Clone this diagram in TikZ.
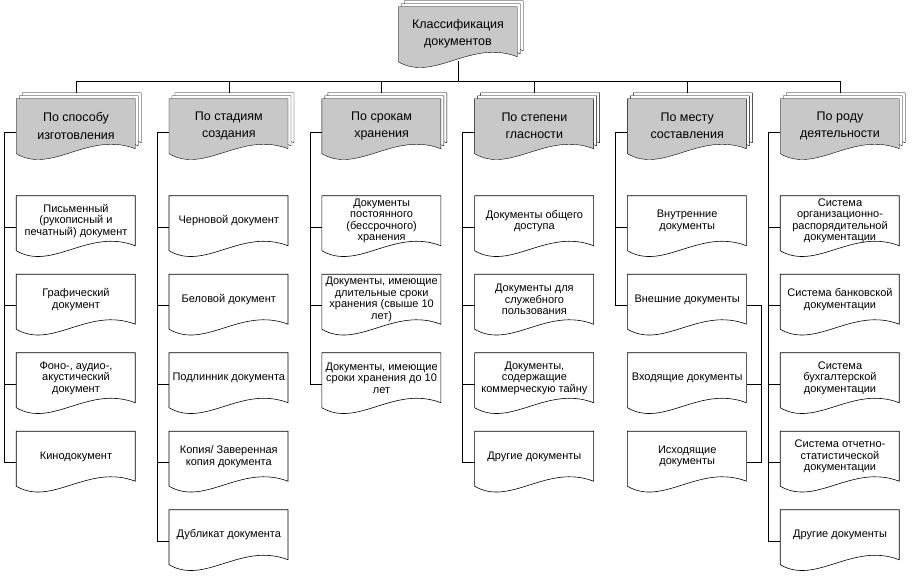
\documentclass[tikz,border=0pt]{standalone}
\usepackage{fontspec}
\setmainfont{Liberation Sans}
\usepackage{xcolor}
\usepackage{tikz}
\usetikzlibrary{backgrounds}

\definecolor{catgray}{RGB}{200,200,200}

% one page of a document symbol, hung from the north west corner of a node
\newcommand{\docpage}[3]{%
  \draw[#3, shift={(#1.north west)}, xshift=#2pt, yshift=#2pt]
    (0,0) -- (119,0) -- (119,50) .. controls (72,32) and (36,76) .. (0,55) -- cycle;}

% single document: name, x, top, text
\newcommand{\leafdoc}[4]{%
  \node[leaf] (#1) at (#2,#3+25) {#4};
  \docpage{#1}{0}{leafpage}}

% stacked documents: name, x, top, text
\newcommand{\stackdoc}[4]{%
  \node[heading] (#1) at (#2,#3+27) {#4};
  \begin{scope}[on background layer]
    \docpage{#1}{6}{backpage}
    \docpage{#1}{3}{backpage}
    \docpage{#1}{0}{frontpage}
  \end{scope}}

\begin{document}
\begin{tikzpicture}[x=1pt, y=-1pt, line width=0.6pt,
  leaf/.style={minimum width=119pt, minimum height=50pt, inner sep=0pt,
    align=center, font=\fontsize{11}{11.5}\selectfont},
  heading/.style={minimum width=119pt, minimum height=54pt, inner sep=0pt,
    align=center, font=\fontsize{12.5}{17.5}\selectfont},
  leafpage/.style={draw=black},
  backpage/.style={draw=black, fill=white},
  frontpage/.style={draw=black, fill=catgray},
  link/.style={draw=black}]

\useasboundingbox (0,0) rectangle (913,581);

% Root
\stackdoc{klass}{458}{7}{Классификация\\документов}

% Classification features
\stackdoc{sposob}{76}{99}{По способу\\изготовления}
\stackdoc{stadii}{228.8}{99}{По стадиям\\создания}
\stackdoc{sroki}{381.6}{99}{По срокам\\хранения}
\stackdoc{glasn}{534.4}{99}{По степени\\гласности}
\stackdoc{mesto}{687.2}{99}{По месту\\составления}
\stackdoc{rod}{840}{99}{По роду\\деятельности}

% Column 1
\leafdoc{sposob1}{76}{196}{Письменный\\(рукописный и\\печатный) документ}
\leafdoc{sposob2}{76}{274.5}{Графический\\документ}
\leafdoc{sposob3}{76}{353}{Фоно-, аудио-,\\акустический\\документ}
\leafdoc{sposob4}{76}{431.5}{Кинодокумент}

% Column 2
\leafdoc{stadii1}{228.8}{196}{Черновой документ}
\leafdoc{stadii2}{228.8}{274.5}{Беловой документ}
\leafdoc{stadii3}{228.8}{353}{Подлинник документа}
\leafdoc{stadii4}{228.8}{431.5}{Копия/ Заверенная\\копия документа}
\leafdoc{stadii5}{228.8}{510}{Дубликат документа}

% Column 3
\leafdoc{sroki1}{381.6}{196}{Документы\\постоянного\\(бессрочного)\\хранения}
\leafdoc{sroki2}{381.6}{274.5}{Документы, имеющие\\длительные сроки\\хранения (свыше 10\\лет)}
\leafdoc{sroki3}{381.6}{353}{Документы, имеющие\\сроки хранения до 10\\лет}

% Column 4
\leafdoc{glasn1}{534.4}{196}{Документы общего\\доступа}
\leafdoc{glasn2}{534.4}{274.5}{Документы для\\служебного\\пользования}
\leafdoc{glasn3}{534.4}{353}{Документы,\\содержащие\\коммерческую тайну}
\leafdoc{glasn4}{534.4}{431.5}{Другие документы}

% Column 5
\leafdoc{mesto1}{687.2}{196}{Внутренние\\документы}
\leafdoc{mesto2}{687.2}{274.5}{Внешние документы}
\leafdoc{mesto3}{687.2}{353}{Входящие документы}
\leafdoc{mesto4}{687.2}{431.5}{Исходящие\\документы}

% Column 6
\leafdoc{rod1}{840}{196}{Система\\организационно-\\распорядительной\\документации}
\leafdoc{rod2}{840}{274.5}{Система банковской\\документации}
\leafdoc{rod3}{840}{353}{Система\\бухгалтерской\\документации}
\leafdoc{rod4}{840}{431.5}{Система отчетно-\\статистической\\документации}
\leafdoc{rod5}{840}{510}{Другие документы}

% Root to features
\draw[link] (klass.south) -- ++(0,20) coordinate (bus);
\foreach \c in {sposob,stadii,sroki,glasn,mesto,rod}
  \draw[link] (bus) -| ([yshift=6pt]\c.north);

% Features to documents
\foreach \i in {1,...,4}
  \draw[link] ([yshift=-6pt]sposob.west) -- ++(-12,0) |- ([yshift=-6pt]sposob\i.west);
\foreach \i in {1,...,5}
  \draw[link] ([yshift=-6pt]stadii.west) -- ++(-12,0) |- ([yshift=-6pt]stadii\i.west);
\foreach \i in {1,...,3}
  \draw[link] ([yshift=-6pt]sroki.west) -- ++(-12,0) |- ([yshift=-6pt]sroki\i.west);
\foreach \i in {1,...,4}
  \draw[link] ([yshift=-6pt]glasn.west) -- ++(-12,0) |- ([yshift=-6pt]glasn\i.west);
\foreach \i in {1,2}
  \draw[link] ([yshift=-6pt]mesto.west) -- ++(-12,0) |- ([yshift=-6pt]mesto\i.west);
\foreach \i in {1,...,5}
  \draw[link] ([yshift=-6pt]rod.west) -- ++(-12,0) |- ([yshift=-6pt]rod\i.west);

% External: incoming and outgoing
\foreach \i in {3,4}
  \draw[link] ([yshift=-6pt]mesto2.east) -- ++(14,0) |- ([yshift=-6pt]mesto\i.east);

\end{tikzpicture}
\end{document}
